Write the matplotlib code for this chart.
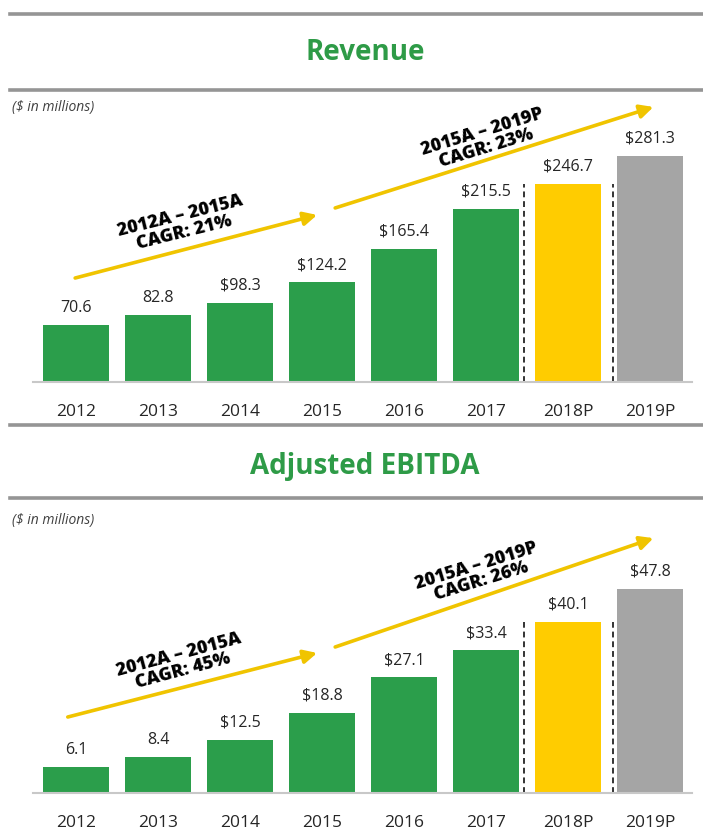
import matplotlib.pyplot as plt
from matplotlib.lines import Line2D

plt.rcParams['font.family'] = ['Open Sans', 'DejaVu Sans']

years = ['2012', '2013', '2014', '2015', '2016', '2017', '2018P', '2019P']

revenue = [70.6, 82.8, 98.3, 124.2, 165.4, 215.5, 246.7, 281.3]
revenue_labels = ['70.6', '82.8', '$98.3', '$124.2', '$165.4', '$215.5', '$246.7', '$281.3']
revenue_cagr = ['2012A – 2015A\nCAGR: 21%', '2015A – 2019P\nCAGR: 23%']

ebitda = [6.1, 8.4, 12.5, 18.8, 27.1, 33.4, 40.1, 47.8]
ebitda_labels = ['6.1', '8.4', '$12.5', '$18.8', '$27.1', '$33.4', '$40.1', '$47.8']
ebitda_cagr = ['2012A – 2015A\nCAGR: 45%', '2015A – 2019P\nCAGR: 26%']

GREEN = '#2b9e4b'
YELLOW = '#ffcc00'
GREY = '#a5a5a5'
ARROW = '#f0c400'
bar_colors = [GREEN] * 6 + [YELLOW, GREY]

fig = plt.figure(figsize=(7.03, 8.30), dpi=100)

# grey rules and section titles
for y in [14, 90, 425, 498]:
    fig.add_artist(Line2D([10 / 703, 1], [1 - y / 830] * 2, color='#959595', lw=2.6))
fig.text(0.519, 1 - 52 / 830, 'Revenue', ha='center', va='center',
         fontsize=20, fontweight='bold', color='#2e9b47')
fig.text(0.519, 1 - 466 / 830, 'Adjusted EBITDA', ha='center', va='center',
         fontsize=20, fontweight='bold', color='#2e9b47')
for y in [107, 520]:
    fig.text(12 / 703, 1 - y / 830, '($ in millions)', ha='left', va='center',
             fontsize=10, style='italic', color='#404040')

panels = [
    # values, labels, cagr texts, axes rect, ylim top, arrows (start, end), text pos, rotations
    (revenue, revenue_labels, revenue_cagr,
     [33 / 703, (830 - 382) / 830, 659 / 703, 292 / 830], 363.4,
     [((-0.01, 129.4), (2.94, 207.9)), ((3.16, 216.6), (7.04, 342.3))],
     [(1.30, 196), (4.98, 301)], [14, 17]),
    (ebitda, ebitda_labels, ebitda_cagr,
     [33 / 703, (830 - 793) / 830, 659 / 703, 295 / 830], 69.1,
     [((-0.10, 17.8), (2.94, 32.8)), ((3.16, 34.2), (7.04, 59.7))],
     [(1.28, 30.5), (4.91, 51.3)], [15, 17]),
]

for values, labels, cagr, rect, ytop, arrows, tpos, rots in panels:
    ax = fig.add_axes(rect)
    x = range(len(years))
    ax.bar(x, values, width=0.8, color=bar_colors, zorder=2)
    for xi, v, lab in zip(x, values, labels):
        ax.annotate(lab, (xi, v), xytext=(0, 9.5), textcoords='offset points',
                    ha='center', va='baseline', fontsize=11.5, color='#262626')
    # dashed separators for projected years
    ax.vlines([5.46, 6.55], 0, values[6], colors='#333333', linestyles=(0, (3, 2)), lw=1.4)
    for (start, end) in arrows:
        ax.annotate('', xy=end, xytext=start,
                    arrowprops=dict(arrowstyle='-|>', color=ARROW, lw=2.6,
                                    mutation_scale=20, shrinkA=0, shrinkB=0),
                    annotation_clip=False)
    for txt, (tx, ty), r in zip(cagr, tpos, rots):
        ax.text(tx, ty, txt, ha='center', va='center', rotation=r,
                rotation_mode='anchor', fontsize=13, fontweight=800,
                color='black', linespacing=0.95)
    ax.set_xlim(-0.524, 7.51)
    ax.set_ylim(0, ytop)
    ax.set_xticks(list(x))
    ax.set_xticklabels(years, fontsize=12.5, color='#262626')
    ax.tick_params(axis='x', length=0, pad=15.5)
    ax.set_yticks([])
    for s in ['top', 'left', 'right']:
        ax.spines[s].set_visible(False)
    ax.spines['bottom'].set_color('#c8c8c8')
    ax.spines['bottom'].set_linewidth(1.5)
    ax.patch.set_alpha(0)

fig.savefig('out.png', dpi=100, facecolor='white')
